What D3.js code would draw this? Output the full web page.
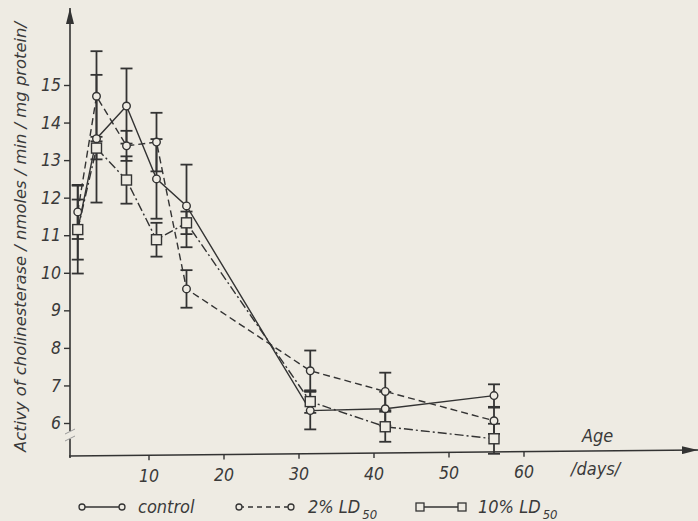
<!DOCTYPE html>
<html>
<head>
<meta charset="utf-8">
<script src="https://d3js.org/d3.v7.min.js"></script>
<style>
  body { margin: 0; background-color: #eeebe3; }
  svg { display: block; }
  text {
    font-family: "DejaVu Sans Condensed", "Liberation Sans Narrow", "DejaVu Sans", sans-serif;
    font-style: italic;
    fill: #3a3a3a;
  }
  .axis path { display: none; }
  .axis line { stroke: #333; stroke-width: 1.4; }
  .axis text { font-size: 17.5px; }
</style>
</head>
<body>
<svg id="chart" width="698" height="521"></svg>
<script>
// days of sampling
var days = [0.5, 3, 7, 11, 15, 31.5, 41.5, 56];
// activity values (mean) and error (+/-)
var control    = [11.15, 13.57, 14.44, 12.5, 11.78, 6.33, 6.38, 6.73];
var controlErr = [0.8, 1.7, 1.0, 1.06, 1.1, 0.5, 0.45, 0.3];
var ld2        = [11.62, 14.7, 13.38, 13.48, 9.57, 7.39, 6.84, 6.06];
var ld2Err     = [0.72, 1.2, 0.4, 0.78, 0.5, 0.54, 0.5, 0.35];
var ld10       = [11.15, 13.32, 12.47, 10.88, 11.33, 6.57, 5.9, 5.58];
var ld10Err    = [1.17, 0.3, 0.63, 0.45, 0.3, 0.3, 0.4, 0.4];
var xTicks = [10, 20, 30, 40, 50, 60];
var yTicks = [6, 7, 8, 9, 10, 11, 12, 13, 14, 15];

var svg = d3.select("#chart");
var ink = "#333";

var x = d3.scaleLinear().domain([0, 60]).range([74, 524]);
var y = d3.scaleLinear().domain([6, 15]).range([423, 85]);
var axisX = 70, axisY = 456;

// arrow head
svg.append("defs").append("marker")
  .attr("id", "arrow").attr("viewBox", "0 0 16 8")
  .attr("refX", 16).attr("refY", 4)
  .attr("markerWidth", 16).attr("markerHeight", 8)
  .attr("markerUnits", "userSpaceOnUse")
  .attr("orient", "auto")
  .append("path").attr("d", "M0,0 L16,4 L0,8 Z").attr("fill", ink);

// axes lines
svg.append("line").attr("x1", axisX).attr("y1", axisY + 2).attr("x2", axisX).attr("y2", 8)
  .attr("stroke", ink).attr("stroke-width", 1.6).attr("marker-end", "url(#arrow)");
svg.append("line").attr("x1", axisX - 1).attr("y1", axisY).attr("x2", 698).attr("y2", axisY - 6)
  .attr("stroke", ink).attr("stroke-width", 1.6).attr("marker-end", "url(#arrow)");

// y axis break
svg.append("rect").attr("x", axisX - 4).attr("y", 431).attr("width", 8).attr("height", 8)
  .attr("fill", "#eeebe3");
svg.selectAll(".brk").data([431, 438]).enter().append("line")
  .attr("x1", axisX - 5).attr("x2", axisX + 5)
  .attr("y1", function(d) { return d + 3; }).attr("y2", function(d) { return d - 2; })
  .attr("stroke", "#999").attr("stroke-width", 1);

// y ticks
svg.append("g").attr("class", "axis")
  .attr("transform", "translate(" + axisX + ",0)")
  .call(d3.axisLeft(y).tickValues(yTicks).tickSize(6).tickPadding(3).tickFormat(d3.format("d")));

// x ticks, following the slightly tilted axis line
var xg = svg.append("g").attr("class", "axis")
  .attr("transform", "translate(0," + axisY + ")")
  .call(d3.axisBottom(x).tickValues(xTicks).tickSize(5).tickPadding(9).tickFormat(d3.format("d")));
xg.selectAll(".tick").attr("transform", function(d) {
  var px = x(d);
  var dy = -6 * (px - axisX) / (698 - axisX);
  return "translate(" + px + "," + dy + ")";
});

// axis titles
svg.append("text").attr("x", 582).attr("y", 442).attr("font-size", 18).text("Age");
svg.append("text").attr("x", 571).attr("y", 475).attr("font-size", 18).text("/days/");
svg.append("text")
  .attr("transform", "translate(26,237) rotate(-90)")
  .attr("text-anchor", "middle").attr("font-size", 16)
  .attr("textLength", 430).attr("lengthAdjust", "spacingAndGlyphs")
  .text("Activy of cholinesterase / nmoles / min / mg protein/");

var series = [
  {name: "control", vals: control, err: controlErr, dash: null, mark: "circle"},
  {name: "ld2", vals: ld2, err: ld2Err, dash: "7,4", mark: "circle"},
  {name: "ld10", vals: ld10, err: ld10Err, dash: "9,3,2,3", mark: "square"}
];

function pts(s) {
  return days.map(function(d, i) { return {day: d, v: s.vals[i], e: s.err[i]}; });
}

var line = d3.line().x(function(d) { return x(d.day); }).y(function(d) { return y(d.v); });

// error bars
series.forEach(function(s) {
  var g = svg.append("g");
  var p = pts(s);
  g.selectAll(".eb").data(p).enter().append("line")
    .attr("x1", function(d) { return x(d.day); }).attr("x2", function(d) { return x(d.day); })
    .attr("y1", function(d) { return y(d.v - d.e); }).attr("y2", function(d) { return y(d.v + d.e); })
    .attr("stroke", ink).attr("stroke-width", 1.8);
  ["lo", "hi"].forEach(function(k) {
    g.selectAll(".cap" + k).data(p).enter().append("line")
      .attr("x1", function(d) { return x(d.day) - 6; }).attr("x2", function(d) { return x(d.day) + 6; })
      .attr("y1", function(d) { return y(k == "lo" ? d.v - d.e : d.v + d.e); })
      .attr("y2", function(d) { return y(k == "lo" ? d.v - d.e : d.v + d.e); })
      .attr("stroke", ink).attr("stroke-width", 1.8);
  });
});

// lines
series.forEach(function(s) {
  svg.append("path").datum(pts(s)).attr("d", line)
    .attr("fill", "none").attr("stroke", ink).attr("stroke-width", 1.4)
    .attr("stroke-dasharray", s.dash);
});

// markers
function drawMark(g, mark, cx, cy) {
  if (mark == "circle") {
    g.append("circle").attr("cx", cx).attr("cy", cy).attr("r", 3.8)
      .attr("fill", "#eeebe3").attr("stroke", ink).attr("stroke-width", 1.4);
  } else {
    g.append("rect").attr("x", cx - 5).attr("y", cy - 5).attr("width", 10).attr("height", 10)
      .attr("fill", "#eeebe3").attr("stroke", ink).attr("stroke-width", 1.4);
  }
}
series.forEach(function(s) {
  var g = svg.append("g");
  pts(s).forEach(function(d) { drawMark(g, s.mark, x(d.day), y(d.v)); });
});

// legend
var legend = [
  {x1: 82, x2: 122, tx: 138, label: "control", sub: null, dash: null, mark: "circle"},
  {x1: 239, x2: 291, tx: 308, label: "2% LD", sub: "50", dash: "5,4", mark: "circle"},
  {x1: 420, x2: 462, tx: 478, label: "10% LD", sub: "50", dash: null, mark: "square"}
];
var ly = 507;
legend.forEach(function(l) {
  var g = svg.append("g");
  g.append("line").attr("x1", l.x1).attr("x2", l.x2).attr("y1", ly).attr("y2", ly)
    .attr("stroke", ink).attr("stroke-width", 1.3).attr("stroke-dasharray", l.dash);
  if (l.mark == "circle") {
    [l.x1, l.x2].forEach(function(cx) {
      g.append("circle").attr("cx", cx).attr("cy", ly).attr("r", 3)
        .attr("fill", "#eeebe3").attr("stroke", ink).attr("stroke-width", 1.3);
    });
  } else {
    [l.x1, l.x2].forEach(function(cx) {
      g.append("rect").attr("x", cx - 4).attr("y", ly - 4).attr("width", 8).attr("height", 8)
        .attr("fill", "#eeebe3").attr("stroke", ink).attr("stroke-width", 1.3);
    });
  }
  var t = g.append("text").attr("x", l.tx).attr("y", ly + 6).attr("font-size", 18).text(l.label);
  if (l.sub) {
    var w = t.node().getComputedTextLength();
    g.append("text").attr("x", l.tx + w + 2).attr("y", ly + 12).attr("font-size", 13).text(l.sub);
  }
});
</script>
</body>
</html>
